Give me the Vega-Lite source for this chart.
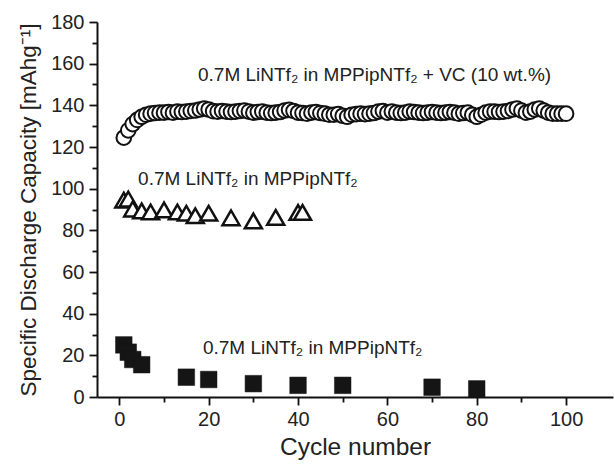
{
  "$schema": "https://vega.github.io/schema/vega-lite/v6.json",
  "width": 516,
  "height": 375,
  "autosize": "none",
  "padding": {"left": 97, "top": 22, "right": 1, "bottom": 68},
  "background": "white",
  "config": {
    "view": {"stroke": null},
    "font": "Liberation Sans",
    "axis": {
      "grid": false,
      "domainColor": "#111",
      "domainWidth": 2,
      "tickColor": "#111",
      "tickWidth": 1.8,
      "labelFont": "Liberation Sans",
      "labelFontSize": 20,
      "labelColor": "#222",
      "titleFont": "Liberation Sans",
      "titleFontWeight": "normal",
      "titleColor": "#222"
    }
  },
  "datasets": {
    "pts": [
      {"c": 1, "v": 124.5, "s": "A"}, {"c": 2, "v": 128, "s": "A"}, {"c": 3, "v": 131, "s": "A"}, {"c": 4, "v": 133, "s": "A"},
      {"c": 5, "v": 134.5, "s": "A"}, {"c": 6, "v": 135.5, "s": "A"}, {"c": 7, "v": 136, "s": "A"}, {"c": 8, "v": 136.3, "s": "A"},
      {"c": 9, "v": 136.5, "s": "A"}, {"c": 10, "v": 136.5, "s": "A"}, {"c": 11, "v": 136.8, "s": "A"}, {"c": 12, "v": 136.5, "s": "A"},
      {"c": 13, "v": 137, "s": "A"}, {"c": 14, "v": 136.8, "s": "A"}, {"c": 15, "v": 137, "s": "A"}, {"c": 16, "v": 137.3, "s": "A"},
      {"c": 17, "v": 137.5, "s": "A"}, {"c": 18, "v": 138, "s": "A"}, {"c": 19, "v": 138.5, "s": "A"}, {"c": 20, "v": 138, "s": "A"},
      {"c": 21, "v": 137.2, "s": "A"}, {"c": 22, "v": 137, "s": "A"}, {"c": 23, "v": 137.3, "s": "A"}, {"c": 24, "v": 137, "s": "A"},
      {"c": 25, "v": 136.8, "s": "A"}, {"c": 26, "v": 137, "s": "A"}, {"c": 27, "v": 137.3, "s": "A"}, {"c": 28, "v": 137.5, "s": "A"},
      {"c": 29, "v": 137, "s": "A"}, {"c": 30, "v": 136.5, "s": "A"}, {"c": 31, "v": 136.8, "s": "A"}, {"c": 32, "v": 137, "s": "A"},
      {"c": 33, "v": 136.5, "s": "A"}, {"c": 34, "v": 136.3, "s": "A"}, {"c": 35, "v": 136.5, "s": "A"}, {"c": 36, "v": 136.8, "s": "A"},
      {"c": 37, "v": 137.5, "s": "A"}, {"c": 38, "v": 137.8, "s": "A"}, {"c": 39, "v": 137.3, "s": "A"}, {"c": 40, "v": 136.5, "s": "A"},
      {"c": 41, "v": 136.3, "s": "A"}, {"c": 42, "v": 136, "s": "A"}, {"c": 43, "v": 136.5, "s": "A"}, {"c": 44, "v": 136.8, "s": "A"},
      {"c": 45, "v": 136.3, "s": "A"}, {"c": 46, "v": 136, "s": "A"}, {"c": 47, "v": 135.5, "s": "A"}, {"c": 48, "v": 135.5, "s": "A"},
      {"c": 49, "v": 135.8, "s": "A"}, {"c": 50, "v": 135, "s": "A"}, {"c": 51, "v": 134.5, "s": "A"}, {"c": 52, "v": 135.5, "s": "A"},
      {"c": 53, "v": 135.8, "s": "A"}, {"c": 54, "v": 136, "s": "A"}, {"c": 55, "v": 135.8, "s": "A"}, {"c": 56, "v": 136, "s": "A"},
      {"c": 57, "v": 136.3, "s": "A"}, {"c": 58, "v": 137, "s": "A"}, {"c": 59, "v": 137.3, "s": "A"}, {"c": 60, "v": 136.5, "s": "A"},
      {"c": 61, "v": 137, "s": "A"}, {"c": 62, "v": 136.5, "s": "A"}, {"c": 63, "v": 136.3, "s": "A"}, {"c": 64, "v": 136.5, "s": "A"},
      {"c": 65, "v": 137, "s": "A"}, {"c": 66, "v": 136.8, "s": "A"}, {"c": 67, "v": 136.5, "s": "A"}, {"c": 68, "v": 136.3, "s": "A"},
      {"c": 69, "v": 136.5, "s": "A"}, {"c": 70, "v": 136.8, "s": "A"}, {"c": 71, "v": 136.5, "s": "A"}, {"c": 72, "v": 136.3, "s": "A"},
      {"c": 73, "v": 136.5, "s": "A"}, {"c": 74, "v": 136.8, "s": "A"}, {"c": 75, "v": 136.5, "s": "A"}, {"c": 76, "v": 136, "s": "A"},
      {"c": 77, "v": 136.3, "s": "A"}, {"c": 78, "v": 136.5, "s": "A"}, {"c": 79, "v": 135.5, "s": "A"}, {"c": 80, "v": 134.5, "s": "A"},
      {"c": 81, "v": 135.5, "s": "A"}, {"c": 82, "v": 136.5, "s": "A"}, {"c": 83, "v": 137, "s": "A"}, {"c": 84, "v": 137, "s": "A"},
      {"c": 85, "v": 136.8, "s": "A"}, {"c": 86, "v": 137, "s": "A"}, {"c": 87, "v": 137.3, "s": "A"}, {"c": 88, "v": 138, "s": "A"},
      {"c": 89, "v": 138.5, "s": "A"}, {"c": 90, "v": 137.5, "s": "A"}, {"c": 91, "v": 136.5, "s": "A"}, {"c": 92, "v": 137, "s": "A"},
      {"c": 93, "v": 138, "s": "A"}, {"c": 94, "v": 138.5, "s": "A"}, {"c": 95, "v": 137.5, "s": "A"}, {"c": 96, "v": 136.5, "s": "A"},
      {"c": 97, "v": 136, "s": "A"}, {"c": 98, "v": 136, "s": "A"}, {"c": 99, "v": 136, "s": "A"}, {"c": 100, "v": 136, "s": "A"},
      {"c": 1, "v": 94.5, "s": "B"}, {"c": 2, "v": 95, "s": "B"}, {"c": 3, "v": 90.2, "s": "B"}, {"c": 5, "v": 89.3, "s": "B"},
      {"c": 7, "v": 88.8, "s": "B"}, {"c": 10, "v": 89.8, "s": "B"}, {"c": 13, "v": 88.8, "s": "B"}, {"c": 15, "v": 88.2, "s": "B"},
      {"c": 17, "v": 87, "s": "B"}, {"c": 20, "v": 88.2, "s": "B"}, {"c": 25, "v": 86, "s": "B"}, {"c": 30, "v": 84.5, "s": "B"},
      {"c": 35, "v": 86.2, "s": "B"}, {"c": 40, "v": 88.6, "s": "B"}, {"c": 41, "v": 88.6, "s": "B"},
      {"c": 1, "v": 25, "s": "C"}, {"c": 2, "v": 21.5, "s": "C"}, {"c": 3, "v": 18, "s": "C"}, {"c": 5, "v": 15.5, "s": "C"},
      {"c": 15, "v": 9.5, "s": "C"}, {"c": 20, "v": 8.4, "s": "C"}, {"c": 30, "v": 6.4, "s": "C"}, {"c": 40, "v": 5.6, "s": "C"},
      {"c": 50, "v": 5.6, "s": "C"}, {"c": 70, "v": 4.7, "s": "C"}, {"c": 80, "v": 3.9, "s": "C"}
    ],
    "labels": [
      {"c": 17.6, "v": 151.5, "t": "0.7M LiNTf₂ in MPPipNTf₂ + VC (10 wt.%)"},
      {"c": 4.2, "v": 101.8, "t": "0.7M LiNTf₂ in MPPipNTf₂"},
      {"c": 18.7, "v": 20.6, "t": "0.7M LiNTf₂ in MPPipNTf₂"}
    ]
  },
  "encoding": {
    "x": {
      "field": "c",
      "type": "quantitative",
      "scale": {"domain": [-5, 110.5], "nice": false, "zero": false},
      "axis": {
        "title": "Cycle number",
        "titleFontSize": 24.5,
        "titlePadding": 6,
        "values": [0, 10, 20, 30, 40, 50, 60, 70, 80, 90, 100],
        "labelExpr": "datum.value % 20 === 0 ? datum.label : ''",
        "tickSize": {"condition": {"test": "datum.value % 20 !== 0", "value": 5}, "value": 8},
        "labelPadding": 4,
        "labelFlush": false,
        "labelOverlap": false
      }
    },
    "y": {
      "field": "v",
      "type": "quantitative",
      "scale": {"domain": [0, 180], "nice": false},
      "axis": {
        "title": "Specific Discharge Capacity [mAhg⁻¹]",
        "titleFontSize": 22.5,
        "titlePadding": 10,
        "values": [0, 10, 20, 30, 40, 50, 60, 70, 80, 90, 100, 110, 120, 130, 140, 150, 160, 170, 180],
        "labelExpr": "datum.value % 20 === 0 ? datum.label : ''",
        "tickSize": {"condition": {"test": "datum.value % 20 !== 0", "value": 5}, "value": 8},
        "labelPadding": 5,
        "labelFlush": false,
        "labelOverlap": false
      }
    }
  },
  "layer": [
    {
      "data": {"name": "pts"},
      "transform": [{"filter": "datum.s === 'A'"}],
      "mark": {"type": "point", "shape": "circle", "filled": true, "fill": "white", "stroke": "#111", "strokeWidth": 2, "size": 215, "opacity": 1}
    },
    {
      "data": {"name": "pts"},
      "transform": [{"filter": "datum.s === 'B'"}],
      "mark": {"type": "point", "shape": "triangle-up", "filled": true, "fill": "white", "stroke": "#111", "strokeWidth": 2.5, "size": 290, "opacity": 1}
    },
    {
      "data": {"name": "pts"},
      "transform": [{"filter": "datum.s === 'C'"}],
      "mark": {"type": "point", "shape": "square", "filled": true, "fill": "#151515", "stroke": "#151515", "strokeWidth": 0.5, "size": 275, "opacity": 1}
    },
    {
      "data": {"name": "labels"},
      "mark": {"type": "text", "align": "left", "baseline": "alphabetic", "fontSize": 19, "font": "Liberation Sans", "color": "#222"},
      "encoding": {"text": {"field": "t"}}
    }
  ]
}
